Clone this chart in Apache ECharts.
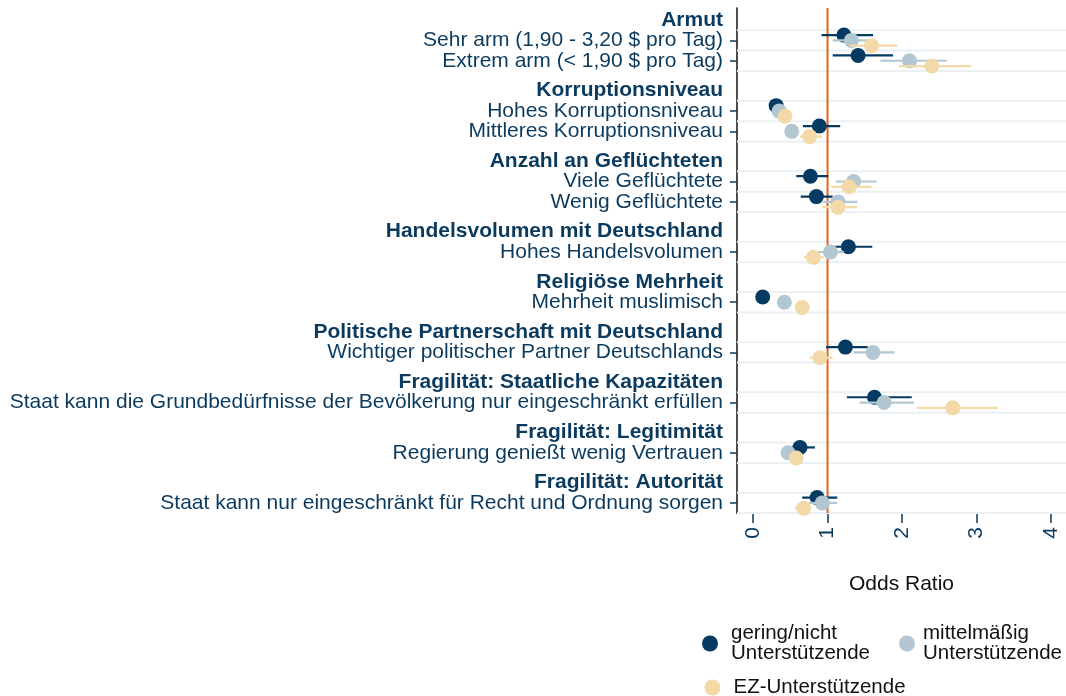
<!DOCTYPE html>
<html>
<head>
<meta charset="utf-8">
<script src="https://cdn.jsdelivr.net/npm/echarts@6/dist/echarts.min.js"></script>
<style>
  html, body { margin: 0; padding: 0; background: #fff; }
  #chart { width: 1066px; height: 696px; }
</style>
</head>
<body>
<div id="chart"></div>
<script>
// Group headings and the items listed under each one
const groups = [
  'Armut',
  'Korruptionsniveau',
  'Anzahl an Geflüchteten',
  'Handelsvolumen mit Deutschland',
  'Religiöse Mehrheit',
  'Politische Partnerschaft mit Deutschland',
  'Fragilität: Staatliche Kapazitäten',
  'Fragilität: Legitimität',
  'Fragilität: Autorität'
];
const groupItems = [
  ['Sehr arm (1,90 - 3,20 $ pro Tag)', 'Extrem arm (< 1,90 $ pro Tag)'],
  ['Hohes Korruptionsniveau', 'Mittleres Korruptionsniveau'],
  ['Viele Geflüchtete', 'Wenig Geflüchtete'],
  ['Hohes Handelsvolumen'],
  ['Mehrheit muslimisch'],
  ['Wichtiger politischer Partner Deutschlands'],
  ['Staat kann die Grundbedürfnisse der Bevölkerung nur eingeschränkt erfüllen'],
  ['Regierung genießt wenig Vertrauen'],
  ['Staat kann nur eingeschränkt für Recht und Ordnung sorgen']
];

const seriesNames = ['gering/nicht\nUnterstützende', 'mittelmäßig\nUnterstützende', 'EZ-Unterstützende'];

// Odds ratios with lower / upper confidence bounds, one entry per item (top to bottom)
const geringOR = [1.22, 1.41, 0.31, 0.89, 0.77, 0.85, 1.28, 0.13, 1.24, 1.63, 0.63, 0.86];
const geringLo = [0.92, 1.07, 0.27, 0.67, 0.58, 0.64, 1.10, 0.10, 0.98, 1.26, 0.47, 0.66];
const geringHi = [1.61, 1.88, 0.36, 1.17, 1.01, 1.07, 1.60, 0.17, 1.54, 2.13, 0.83, 1.13];

const mittelOR = [1.32, 2.10, 0.35, 0.52, 1.35, 1.14, 1.04, 0.42, 1.61, 1.76, 0.47, 0.93];
const mittelLo = [1.07, 1.71, 0.30, 0.46, 1.11, 0.94, 0.87, 0.37, 1.35, 1.43, 0.40, 0.75];
const mittelHi = [1.58, 2.60, 0.40, 0.59, 1.66, 1.40, 1.22, 0.48, 1.90, 2.16, 0.55, 1.13];

const ezOR = [1.59, 2.40, 0.43, 0.76, 1.29, 1.14, 0.81, 0.66, 0.90, 2.68, 0.58, 0.68];
const ezLo = [1.30, 1.96, 0.39, 0.63, 1.05, 0.93, 0.68, 0.60, 0.76, 2.20, 0.50, 0.56];
const ezHi = [1.94, 2.93, 0.48, 0.93, 1.59, 1.40, 0.95, 0.73, 1.07, 3.28, 0.67, 0.78];

const xTicks = [0, 1, 2, 3, 4];
const referenceOR = 1;

// ---- layout of the rows along the (inverted) y axis ----
const ROW = 20.4, GROUP_GAP = 9.4, START = 12, Y_MAX = 505.3;
const DODGE = 5.3; // vertical offset between the three groups of respondents
const itemLabelAt = {}, headerLabelAt = {};
const headerPos = [], itemPos = [];
let pos = START;
groups.forEach((g, gi) => {
  headerPos.push(pos);
  headerLabelAt[pos.toFixed(2)] = g;
  pos += ROW;
  groupItems[gi].forEach(it => {
    itemPos.push(pos);
    itemLabelAt[pos.toFixed(2)] = it;
    pos += ROW;
  });
  pos += GROUP_GAP;
});
// an empty label at the axis start keeps the min/max label check away from the first item
const itemLabelPos = [0].concat(itemPos);
const gridPos = [];
itemPos.forEach(p => {
  [p - ROW / 2, p + ROW / 2].forEach(v => {
    if (!gridPos.some(q => Math.abs(q - v) < 0.5)) gridPos.push(v);
  });
});

const NAVY = '#0b3a5f';
const FONT = 'Liberation Sans';
const colors = ['#053a62', '#b2c7d2', '#f3d9a7'];
const groupsData = [
  [geringOR, geringLo, geringHi],
  [mittelOR, mittelLo, mittelHi],
  [ezOR, ezLo, ezHi]
];

const series = [];
// light horizontal guide lines
series.push({
  type: 'custom', silent: true, z: 1,
  data: gridPos.map(v => [0, v]),
  encode: { x: 0, y: 1 },
  renderItem: (params, api) => {
    const cs = params.coordSys;
    const y = api.coord([0, api.value(1)])[1];
    return { type: 'line', shape: { x1: cs.x, y1: y, x2: cs.x + cs.width, y2: y },
             style: { stroke: '#eaf0f3', lineWidth: 2 } };
  }
});
// reference line at OR = 1
series.push({
  type: 'custom', silent: true, z: 2,
  data: [[referenceOR, 0]],
  encode: { x: 0, y: 1 },
  renderItem: (params, api) => {
    const cs = params.coordSys;
    const x = api.coord([api.value(0), 0])[0];
    return { type: 'line', shape: { x1: x, y1: cs.y, x2: x, y2: cs.y + cs.height },
             style: { stroke: '#e4661e', lineWidth: 2 } };
  }
});

groupsData.forEach((d, si) => {
  const off = (si - 1) * DODGE;
  const [or, lo, hi] = d;
  series.push({
    name: seriesNames[si],
    type: 'custom', silent: true, z: 3 + si * 2,
    itemStyle: { color: colors[si] },
    data: itemPos.map((p, i) => [lo[i], hi[i], p + off]),
    encode: { x: [0, 1], y: 2 },
    renderItem: (params, api) => {
      const a = api.coord([api.value(0), api.value(2)]);
      const b = api.coord([api.value(1), api.value(2)]);
      return { type: 'line', shape: { x1: a[0], y1: a[1], x2: b[0], y2: b[1] },
               style: { stroke: colors[si], lineWidth: 2.2 } };
    }
  });
  series.push({
    name: seriesNames[si],
    type: 'scatter', z: 4 + si * 2,
    symbol: 'circle', symbolSize: 15,
    itemStyle: { color: colors[si], opacity: 1 },
    data: itemPos.map((p, i) => [or[i], p + off])
  });
});

const chart = echarts.init(document.getElementById('chart'), null, { renderer: 'canvas' });
const legendItem = (name, left, top, gap) => ({
  data: [name], left: left, top: top, padding: 0, orient: 'horizontal',
  icon: 'circle', itemWidth: 16, itemHeight: 16, selectedMode: false,
  textStyle: { fontFamily: FONT, fontSize: 20.5, color: '#111', lineHeight: 20, padding: [0, 0, 0, gap] }
});
const labelStyle = { fontFamily: FONT, fontSize: 21, color: NAVY, lineHeight: 16, margin: 14 };
chart.setOption({
  animation: false,
  backgroundColor: '#fff',
  textStyle: { fontFamily: FONT },
  grid: { left: 737, top: 8, right: 0, bottom: 183, containLabel: false },
  xAxis: {
    type: 'value', min: -0.215, max: 4.2,
    name: 'Odds Ratio', nameLocation: 'middle', nameGap: 61,
    nameTextStyle: { fontFamily: FONT, fontSize: 21, color: '#111' },
    axisLine: { show: true, onZero: false, lineStyle: { color: '#111', width: 1.5 } },
    axisTick: { show: true, customValues: xTicks, length: 10, lineStyle: { color: NAVY, width: 1.5 } },
    axisLabel: { customValues: xTicks, rotate: 90, margin: 14, fontSize: 21, color: NAVY, fontFamily: FONT },
    splitLine: { show: false }
  },
  yAxis: [
    {
      // item rows, with ticks
      type: 'value', inverse: true, min: 0, max: Y_MAX, position: 'left',
      axisLine: { show: true, onZero: false, lineStyle: { color: '#111', width: 1.5 } },
      axisTick: { show: true, customValues: itemPos, length: 7, lineStyle: { color: NAVY, width: 1.5 } },
      axisLabel: Object.assign({
        customValues: itemLabelPos, hideOverlap: false,
        formatter: v => itemLabelAt[Number(v).toFixed(2)] || ''
      }, labelStyle),
      splitLine: { show: false }
    },
    {
      // bold group headings
      type: 'value', inverse: true, min: 0, max: Y_MAX, position: 'left', offset: 0,
      axisLine: { show: false, onZero: false },
      axisTick: { show: false },
      axisLabel: Object.assign({
        customValues: headerPos, hideOverlap: false, fontWeight: 'bold',
        formatter: v => headerLabelAt[Number(v).toFixed(2)] || ''
      }, labelStyle),
      splitLine: { show: false }
    }
  ],
  legend: [
    legendItem(seriesNames[0], 702, 623, 8),
    legendItem(seriesNames[1], 899, 623, 3),
    legendItem(seriesNames[2], 704.5, 677, 8)
  ],
  series: series
});
</script>
</body>
</html>
